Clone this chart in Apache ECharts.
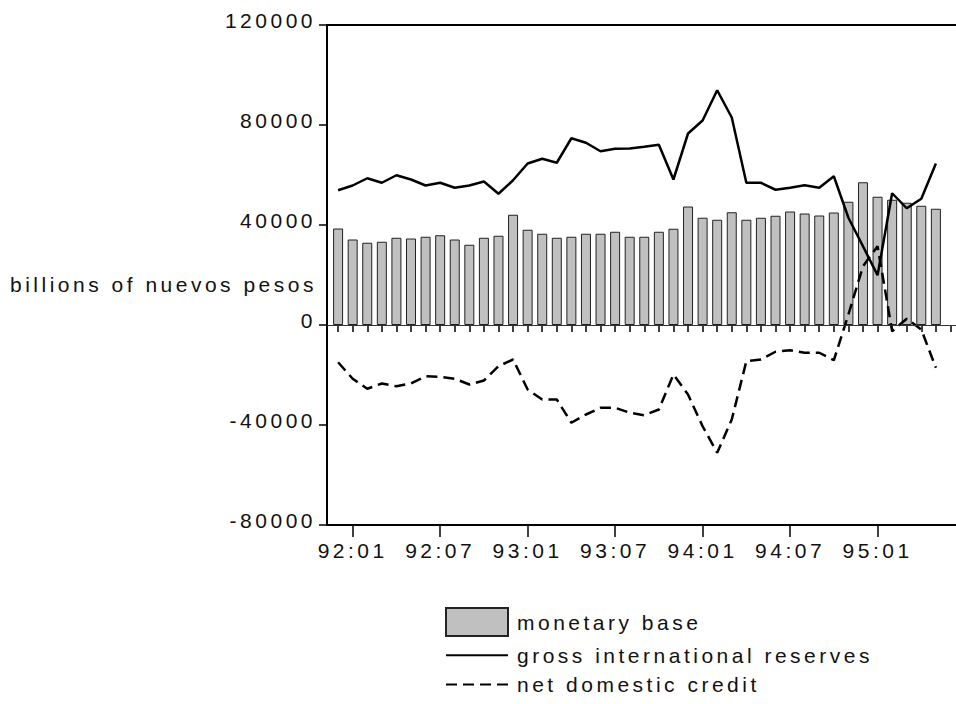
<!DOCTYPE html>
<html>
<head>
<meta charset="utf-8">
<title>Mexico: monetary base, reserves and domestic credit</title>
<script src="https://cdn.jsdelivr.net/npm/echarts@6/dist/echarts.min.js"></script>
<style>
  html, body { margin: 0; padding: 0; background: #fff; }
  #main { width: 956px; height: 704px; }
  /* the original plot has widely spaced lettering */
  #main text { letter-spacing: 3.5px; }
</style>
</head>
<body>
<div id="main"></div>
<script>
// monthly observations, 91:12 .. 95:05
let months = ['91:12',
  '92:01', '92:02', '92:03', '92:04', '92:05', '92:06', '92:07', '92:08', '92:09', '92:10', '92:11', '92:12',
  '93:01', '93:02', '93:03', '93:04', '93:05', '93:06', '93:07', '93:08', '93:09', '93:10', '93:11', '93:12',
  '94:01', '94:02', '94:03', '94:04', '94:05', '94:06', '94:07', '94:08', '94:09', '94:10', '94:11', '94:12',
  '95:01', '95:02', '95:03', '95:04', '95:05']
// the axis runs on one month past the last observation
let tickMonths = months.concat(['95:06'])

let monetaryBase = [38600, 34200, 32900, 33300, 34900, 34600, 35300, 35900, 34200, 32100,
  34900, 35700, 44100, 38100, 36500, 34900, 35300, 36500, 36500, 37300,
  35300, 35300, 37300, 38500, 47400, 42900, 42100, 45100, 42100, 42900,
  43700, 45400, 44600, 43800, 45000, 49300, 57100, 51300, 50100, 48900,
  47700, 46500]
let grossReserves = [53900, 55800, 58700, 56900, 59900, 58200, 55800, 56900, 54900, 55800,
  57400, 52500, 57900, 64600, 66500, 64900, 74700, 72900, 69500, 70500,
  70600, 71300, 72100, 58200, 76600, 81800, 93900, 83000, 56900, 56900,
  54100, 54900, 55900, 54900, 59500, 42900, 31500, 19900, 52700, 46700,
  50500, 64600]
let netDomesticCredit = [-14900, -21500, -25500, -23400, -24500, -23400, -20500, -20700, -21500, -23800,
  -22200, -16500, -13800, -25800, -29800, -29800, -39100, -35800, -33100, -33100,
  -35100, -36100, -33800, -19800, -27800, -40500, -51100, -37800, -14500, -13800,
  -10700, -10100, -11100, -11100, -14100, 4200, 23500, 31500, -2500, 2500,
  -1800, -17100]

let yTicks = [-80000, -40000, 0, 40000, 80000, 120000]

// layout: one month = ~14.58px, first bar sits 11px right of the y axis,
// the frame runs to the right edge of the window
let chartW = 956
let plotLeft = 327
let firstBarX = 338.1
let stepPx = 14.58
let xMin = -(firstBarX - plotLeft) / stepPx
let xMax = (chartW - firstBarX) / stepPx

let font = 'Liberation Sans, Arial, sans-serif'
let ink = '#111'
let halfYearTick = (i, v) => /:(01|07)$/.test(v)

let myChart = echarts.init(document.getElementById('main'), null, {renderer: 'svg'});
myChart.setOption({
  animation: false,
  textStyle: {fontFamily: font},
  // y axis caption, set horizontally left of the axis
  title: {
    text: 'billions of nuevos pesos',
    left: 10,
    top: 274,
    padding: 0,
    textStyle: {fontSize: 21, fontWeight: 'normal', color: ink, fontFamily: font, lineHeight: 21}
  },
  grid: [
    // plot frame + data
    {left: plotLeft, right: 0, top: 25, bottom: 179},
    // month ticks, from the first observation, one step per month
    {left: firstBarX, width: (tickMonths.length - 1) * stepPx, top: 25, bottom: 179}
  ],
  legend: {
    orient: 'vertical',
    left: 445,
    top: 607,
    padding: 0,
    itemWidth: 62,
    itemHeight: 28,
    itemGap: 7,
    textStyle: {fontSize: 21, color: ink, fontFamily: font, padding: [0, 0, 0, 4]},
    data: [
      {name: 'monetary base', icon: 'rect'},
      {name: 'gross international reserves', itemStyle: {opacity: 0}},
      {name: 'net domestic credit', itemStyle: {opacity: 0}}
    ]
  },
  xAxis: [
    { // data axis, draws the bottom frame
      type: 'value', gridIndex: 0, min: xMin, max: xMax, position: 'bottom',
      axisLine: {onZero: false, lineStyle: {color: '#000', width: 2}},
      axisTick: {show: false}, axisLabel: {show: false}, splitLine: {show: false}
    },
    { // top frame
      type: 'value', gridIndex: 0, min: xMin, max: xMax, position: 'top',
      axisLine: {onZero: false, lineStyle: {color: '#000', width: 2}},
      axisTick: {show: false}, axisLabel: {show: false}, splitLine: {show: false}
    },
    { // short monthly ticks
      type: 'category', gridIndex: 1, data: tickMonths, boundaryGap: false, position: 'bottom',
      axisLine: {show: false},
      axisTick: {interval: 0, length: 7, lineStyle: {color: '#000', width: 1.5}},
      axisLabel: {show: false}
    },
    { // long half-year ticks with labels
      type: 'category', gridIndex: 1, data: tickMonths, boundaryGap: false, position: 'bottom',
      axisLine: {show: false},
      axisTick: {interval: halfYearTick, length: 12, lineStyle: {color: '#000', width: 1.5}},
      axisLabel: {interval: halfYearTick, margin: 15, fontSize: 21, color: ink, fontFamily: font}
    }
  ],
  yAxis: [
    {
      type: 'value', gridIndex: 0,
      min: yTicks[0], max: yTicks[yTicks.length - 1], interval: yTicks[1] - yTicks[0],
      axisLine: {show: true, onZero: false, lineStyle: {color: '#000', width: 2}},
      axisTick: {show: true, length: 8, lineStyle: {color: '#000', width: 1.5}},
      // labels sit a few px above their ticks
      axisLabel: {margin: 11, fontSize: 21, color: ink, fontFamily: font,
        verticalAlign: 'bottom', lineHeight: 9, formatter: v => String(v)},
      splitLine: {show: false}
    },
    {type: 'value', gridIndex: 1, show: false, min: yTicks[0], max: yTicks[yTicks.length - 1]}
  ],
  series: [
    {
      name: 'monetary base',
      type: 'bar',
      xAxisIndex: 0, yAxisIndex: 0,
      barWidth: 10,
      itemStyle: {color: '#c0c0c0', borderColor: '#222', borderWidth: 1},
      data: monetaryBase.map((v, i) => [i, v]),
      markLine: {
        silent: true,
        symbol: 'none',
        label: {show: false},
        lineStyle: {color: '#333', width: 1, type: 'solid'},
        data: [{yAxis: 0}]
      }
    },
    {
      name: 'gross international reserves',
      type: 'line',
      xAxisIndex: 0, yAxisIndex: 0,
      symbol: 'none',
      lineStyle: {color: '#000', width: 2.5},
      itemStyle: {color: '#000'},
      data: grossReserves.map((v, i) => [i, v])
    },
    {
      name: 'net domestic credit',
      type: 'line',
      xAxisIndex: 0, yAxisIndex: 0,
      symbol: 'none',
      lineStyle: {color: '#000', width: 2.5, type: [11, 6]},
      itemStyle: {color: '#000'},
      data: netDomesticCredit.map((v, i) => [i, v])
    }
  ]
});
</script>
</body>
</html>
